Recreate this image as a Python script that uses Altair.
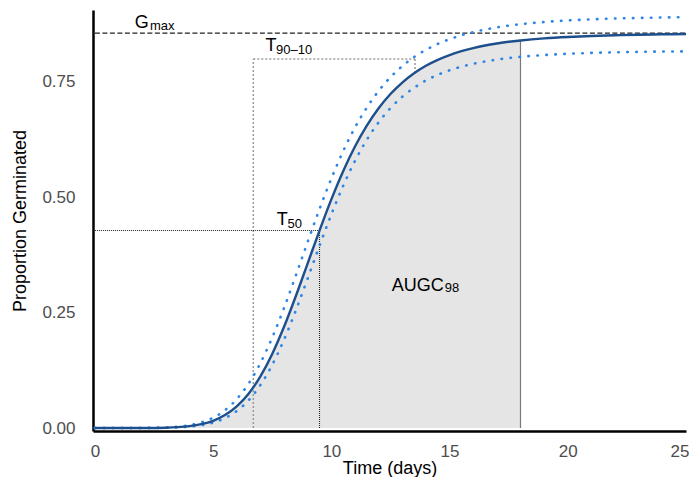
import altair as alt
import pandas as pd

# ---- data ----
time = [0, 1, 2, 3, 3.5, 4, 4.5, 5, 5.5, 6, 6.5, 7, 7.5, 8, 8.5, 9, 9.5, 10, 10.5, 11,
        11.5, 12, 12.5, 13, 13.5, 14, 14.5, 15, 15.5, 16, 16.5, 17, 17.5, 18,
        19, 20, 21, 22, 23, 24, 25]
germ_fit = [0, 0, 0.0001, 0.0007, 0.0018, 0.0040, 0.0083, 0.0157, 0.0280, 0.0469,
            0.0743, 0.1120, 0.1606, 0.2193, 0.2861, 0.3570, 0.4280, 0.4955, 0.5567,
            0.6101, 0.6554, 0.6931, 0.7239, 0.7488, 0.7690, 0.7851, 0.7980, 0.8084,
            0.8167, 0.8235, 0.8290, 0.8334, 0.8371, 0.8400, 0.8445, 0.8476, 0.8498,
            0.8513, 0.8525, 0.8533, 0.8539]
germ_upper = [0, 0, 0.0001, 0.0011, 0.0028, 0.0061, 0.0122, 0.0224, 0.0385, 0.0626,
              0.0963, 0.1407, 0.1960, 0.2602, 0.3308, 0.4034, 0.4745, 0.5407, 0.5999,
              0.6512, 0.6945, 0.7306, 0.7602, 0.7843, 0.8039, 0.8196, 0.8324, 0.8429,
              0.8512, 0.8581, 0.8636, 0.8683, 0.8721, 0.8752, 0.8800, 0.8834, 0.8858,
              0.8875, 0.8887, 0.8897, 0.8904]
germ_lower = [0, 0, 0, 0.0004, 0.0012, 0.0028, 0.0059, 0.0116, 0.0213, 0.0368,
              0.0601, 0.0930, 0.1368, 0.1914, 0.2552, 0.3243, 0.3950, 0.4629, 0.5248,
              0.5790, 0.6247, 0.6626, 0.6933, 0.7179, 0.7375, 0.7532, 0.7655, 0.7753,
              0.7832, 0.7894, 0.7945, 0.7985, 0.8018, 0.8045, 0.8084, 0.8111, 0.8130,
              0.8143, 0.8152, 0.8159, 0.8164]

G_MAX = 0.856
T50 = 9.5
Y50 = 0.428
T10 = 6.7
T90 = 13.54
Y_BOX = 0.80
Y_T90 = 0.770
T_AUGC = 18
Y_AUGC = 0.840

X_TICKS = [0, 5, 10, 15, 20, 25]
Y_TICKS = [0, 0.25, 0.5, 0.75]

label_text = ["G", "max", "T", "90\u201310", "T", "50", "AUGC", "98"]
label_x = [1.69, 2.33, 7.22, 7.66, 7.69, 8.15, 12.56, 14.80]
label_y = [0.8665, 0.8628, 0.8173, 0.810, 0.440, 0.433, 0.2977, 0.294]
label_big = [True, False, True, False, True, False, True, False]

# ---- tables ----
curve = pd.DataFrame({"time": time, "fit": germ_fit,
                      "upper": germ_upper, "lower": germ_lower})
bands = curve.melt(id_vars="time", value_vars=["upper", "lower"],
                   var_name="band", value_name="p")
area_df = curve[curve["time"] <= T_AUGC]

t50_seg = pd.DataFrame({"x": [0, T50], "x2": [T50, T50],
                        "y": [Y50, 0], "y2": [Y50, Y50]})
box_seg = pd.DataFrame({"x": [T10, T10, T90], "x2": [T10, T90, T90],
                        "y": [0, Y_BOX, Y_BOX], "y2": [Y_BOX, Y_BOX, Y_T90]})
gmax_seg = pd.DataFrame({"x": [0], "x2": [25], "y": [G_MAX], "y2": [G_MAX]})
augc_seg = pd.DataFrame({"x": [T_AUGC], "x2": [T_AUGC], "y": [0], "y2": [Y_AUGC]})
labels = pd.DataFrame({"text": label_text, "x": label_x, "y": label_y,
                       "fs": [18 if b else 13 for b in label_big]})

xs = alt.Scale(domain=[-0.08, 25], nice=False, zero=False)
ys = alt.Scale(domain=[-0.0065, 0.906], nice=False, zero=False)

x_axis = alt.Axis(values=X_TICKS, format="d", grid=False,
                  ticks=False, domainColor="black", domainWidth=2.5,
                  labelColor="#4d4d4d", labelFontSize=17, labelPadding=12,
                  labelFlush=1, labelFlushOffset=3, labelOverlap=False,
                  titleFontSize=18, titleColor="black", titleFontWeight="normal",
                  titleX=296.5, titleY=42, titleBaseline="alphabetic",
                  titleAlign="center")
y_axis = alt.Axis(values=Y_TICKS, format=".2f",
                  grid=False, ticks=False, domainColor="black", domainWidth=2.5,
                  labelColor="#4d4d4d", labelFontSize=17, labelPadding=18,
                  labelFlush=False, labelOverlap=False,
                  titleFontSize=18, titleColor="black", titleFontWeight="normal",
                  titleX=-68, titleY=210.5, titleAngle=270,
                  titleBaseline="alphabetic", titleAlign="center")

X_TITLE = "Time (days)"
Y_TITLE = "Proportion Germinated"


def X(field):
    return alt.X(field, type="quantitative", scale=xs, axis=x_axis, title=X_TITLE)


def Y(field):
    return alt.Y(field, type="quantitative", scale=ys, axis=y_axis, title=Y_TITLE)


area = alt.Chart(area_df).mark_area(color="#e5e5e5", interpolate="monotone").encode(
    x=X("time"), y=Y("fit"),
)


def seg(df, **style):
    return alt.Chart(df).mark_rule(**style).encode(
        x=X("x"), x2="x2:Q", y=Y("y"), y2="y2:Q",
    )


augc_line = seg(augc_seg, color="#7a7a7a", strokeWidth=1.2)
box_lines = seg(box_seg, color="#9a9a9a", strokeWidth=1.5, strokeDash=[2, 2])
t50_lines = seg(t50_seg, color="#222222", strokeWidth=1.1, strokeDash=[1, 1])
gmax_line = seg(gmax_seg, color="#222222", strokeWidth=1.3, strokeDash=[5, 2.5])

band_lines = alt.Chart(bands).mark_line(
    color="#2f86e6", strokeWidth=2.6, strokeDash=[0.5, 8.5], strokeCap="round",
    interpolate="monotone",
).encode(
    x=X("time"), y=Y("p"), detail="band:N",
)

fit_line = alt.Chart(curve).mark_line(
    color="#1d4f8c", strokeWidth=2.4, interpolate="monotone"
).encode(
    x=X("time"), y=Y("fit"),
)

text = alt.Chart(labels).mark_text(
    align="left", baseline="alphabetic", color="black"
).encode(
    x=X("x"), y=Y("y"),
    text="text:N",
    size=alt.Size("fs:Q", scale=None, legend=None),
)

chart = alt.layer(
    area, augc_line, box_lines, t50_lines, gmax_line, band_lines, fit_line, text
).properties(
    width=593, height=421,
    autosize=alt.AutoSizeParams(type="none"),
    padding={"left": 85, "top": 2, "right": 3, "bottom": 46},
).configure(
    font="Liberation Sans",
).configure_view(stroke=None)

chart.save("out.html", embed_options={"renderer": "svg", "actions": False})
